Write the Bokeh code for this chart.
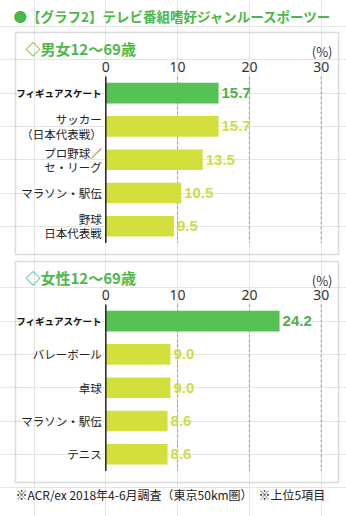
from bokeh.plotting import figure
from bokeh.models import Range1d, LinearAxis, FixedTicker, Label, BoxAnnotation, ColumnDataSource
from bokeh.layouts import column
from bokeh.embed import file_html
from bokeh.resources import INLINE
from bokeh.core.properties import value

# ---------------- data ----------------
TITLE = "●【グラフ2】テレビ番組嗜好ジャンルースポーツー"
SUB1 = "◇男女12〜69歳"
CATS1 = ["フィギュアスケート", "サッカー\n（日本代表戦）", "プロ野球／\nセ・リーグ", "マラソン・駅伝", "野球\n日本代表戦"]
VALS1 = [15.7, 15.7, 13.5, 10.5, 9.5]
SUB2 = "◇女性12〜69歳"
CATS2 = ["フィギュアスケート", "バレーボール", "卓球", "マラソン・駅伝", "テニス"]
VALS2 = [24.2, 9.0, 9.0, 8.6, 8.6]
TICKS = [0, 10, 20, 30]
UNIT = "(%)"
NOTE = "※ACR/ex 2018年4-6月調査（東京50km圏）　※上位5項目"

# ---------------- style ----------------
GREEN_TXT = "#4cb848"
HL_BAR = "#56c255"
HL_TXT = "#4cb050"
BASE_BAR = "#d3df3c"
BASE_TXT = "#cfdc45"
JP = "Noto Sans CJK JP"

W = 346
X0_PX = 105.3      # pixel of value 0
PX_PER = 7.18      # pixels per 1 %
STEP = 33.3        # pixels per category row


def xd(px):
    return (px - X0_PX) / PX_PER


def make_panel(h, row0_px, cats, vals, sub, box_top, box_bottom, title=None, note=None):
    def yd(px):
        return (px - row0_px) / STEP

    p = figure(width=W, height=h, x_range=Range1d(xd(0), xd(W)), y_range=Range1d(yd(h), yd(0)),
               output_backend="svg", toolbar_location=None, min_border=0,
               x_axis_location=None, y_axis_location=None)
    p.outline_line_color = None
    p.background_fill_color = "white"
    p.border_fill_color = "white"

    n = len(cats)
    idx = list(range(n))
    top = -0.5
    bottom = n - 0.5

    # panel frame
    p.add_layout(BoxAnnotation(left=xd(15), right=xd(338), top=yd(box_top), bottom=yd(box_bottom),
                               fill_color=None, line_color="#8a8a8a", line_width=1.5))

    # value axis on top
    ax = LinearAxis(ticker=FixedTicker(ticks=TICKS), fixed_location=top,
                    axis_line_color=None, major_tick_line_color=None, minor_tick_line_color=None,
                    major_tick_out=0, major_tick_in=0, major_label_standoff=4,
                    major_label_text_font_size="14px", major_label_text_color="#333333",
                    major_label_text_font="Noto Sans")
    p.add_layout(ax, "above")

    # dashed grid lines
    gx = [t for t in TICKS if t != 0]
    p.segment(x0=gx, y0=[top] * len(gx), x1=gx, y1=[bottom] * len(gx),
              line_color="#9a9a9a", line_width=1, line_dash="3 2")

    colors = [HL_BAR if i == 0 else BASE_BAR for i in idx]
    tcolors = [HL_TXT if i == 0 else BASE_TXT for i in idx]
    src = ColumnDataSource(dict(y=idx, v=vals, c=colors, tc=tcolors,
                                lab=[f"{v:.1f}" for v in vals], cat=cats))
    p.hbar(y="y", left=0, right="v", height=0.62, fill_color="c", line_color=None, source=src)

    # zero axis line
    p.segment(x0=[0], y0=[top], x1=[0], y1=[bottom], line_color="#222222", line_width=1.5)

    # values
    p.text(x="v", y="y", text="lab", x_offset=3, text_color="tc", text_baseline="middle",
           text_font=value("Liberation Sans"), text_font_style="bold", text_font_size="15px", source=src)

    # category labels
    src_hl = ColumnDataSource(dict(y=idx[:1], cat=cats[:1]))
    src_rest = ColumnDataSource(dict(y=idx[1:], cat=cats[1:]))
    p.text(x=0, y="y", text="cat", x_offset=-4, text_align="right", text_baseline="middle",
           text_font=value(JP), text_font_style="bold", text_font_size="9.5px", text_color="#111111",
           source=src_hl)
    p.text(x=0, y="y", text="cat", x_offset=-4, text_align="right", text_baseline="middle",
           text_font=value(JP), text_font_size="11.5px", text_color="#222222", text_line_height=0.9,
           source=src_rest)

    # subtitle and unit
    p.add_layout(Label(x=xd(25), y=yd(box_top + 16), text=sub, text_baseline="middle",
                       text_font=JP, text_font_style="bold", text_font_size="15px", text_color=GREEN_TXT))
    p.add_layout(Label(x=xd(332), y=yd(box_top + 19), text=UNIT, text_align="right", text_baseline="middle",
                       text_font=JP, text_font_size="13px", text_color="#333333"))

    if title is not None:
        p.add_layout(Label(x=xd(13), y=yd(15), text=title, text_baseline="middle",
                           text_font=JP, text_font_style="bold", text_font_size="13.5px", text_color=GREEN_TXT))
    if note is not None:
        p.add_layout(Label(x=xd(15), y=yd(box_bottom + 12), text=note, text_baseline="middle",
                           text_font=JP, text_font_size="12px", text_color="#222222"))
    return p


p1 = make_panel(256, 92.6, CATS1, VALS1, SUB1, 32, 254, title=TITLE)
p2 = make_panel(260, 64.6, CATS2, VALS2, SUB2, 5, 226, note=NOTE)

layout = column(p1, p2, spacing=0)
open("out.html", "w").write(file_html(layout, INLINE))
